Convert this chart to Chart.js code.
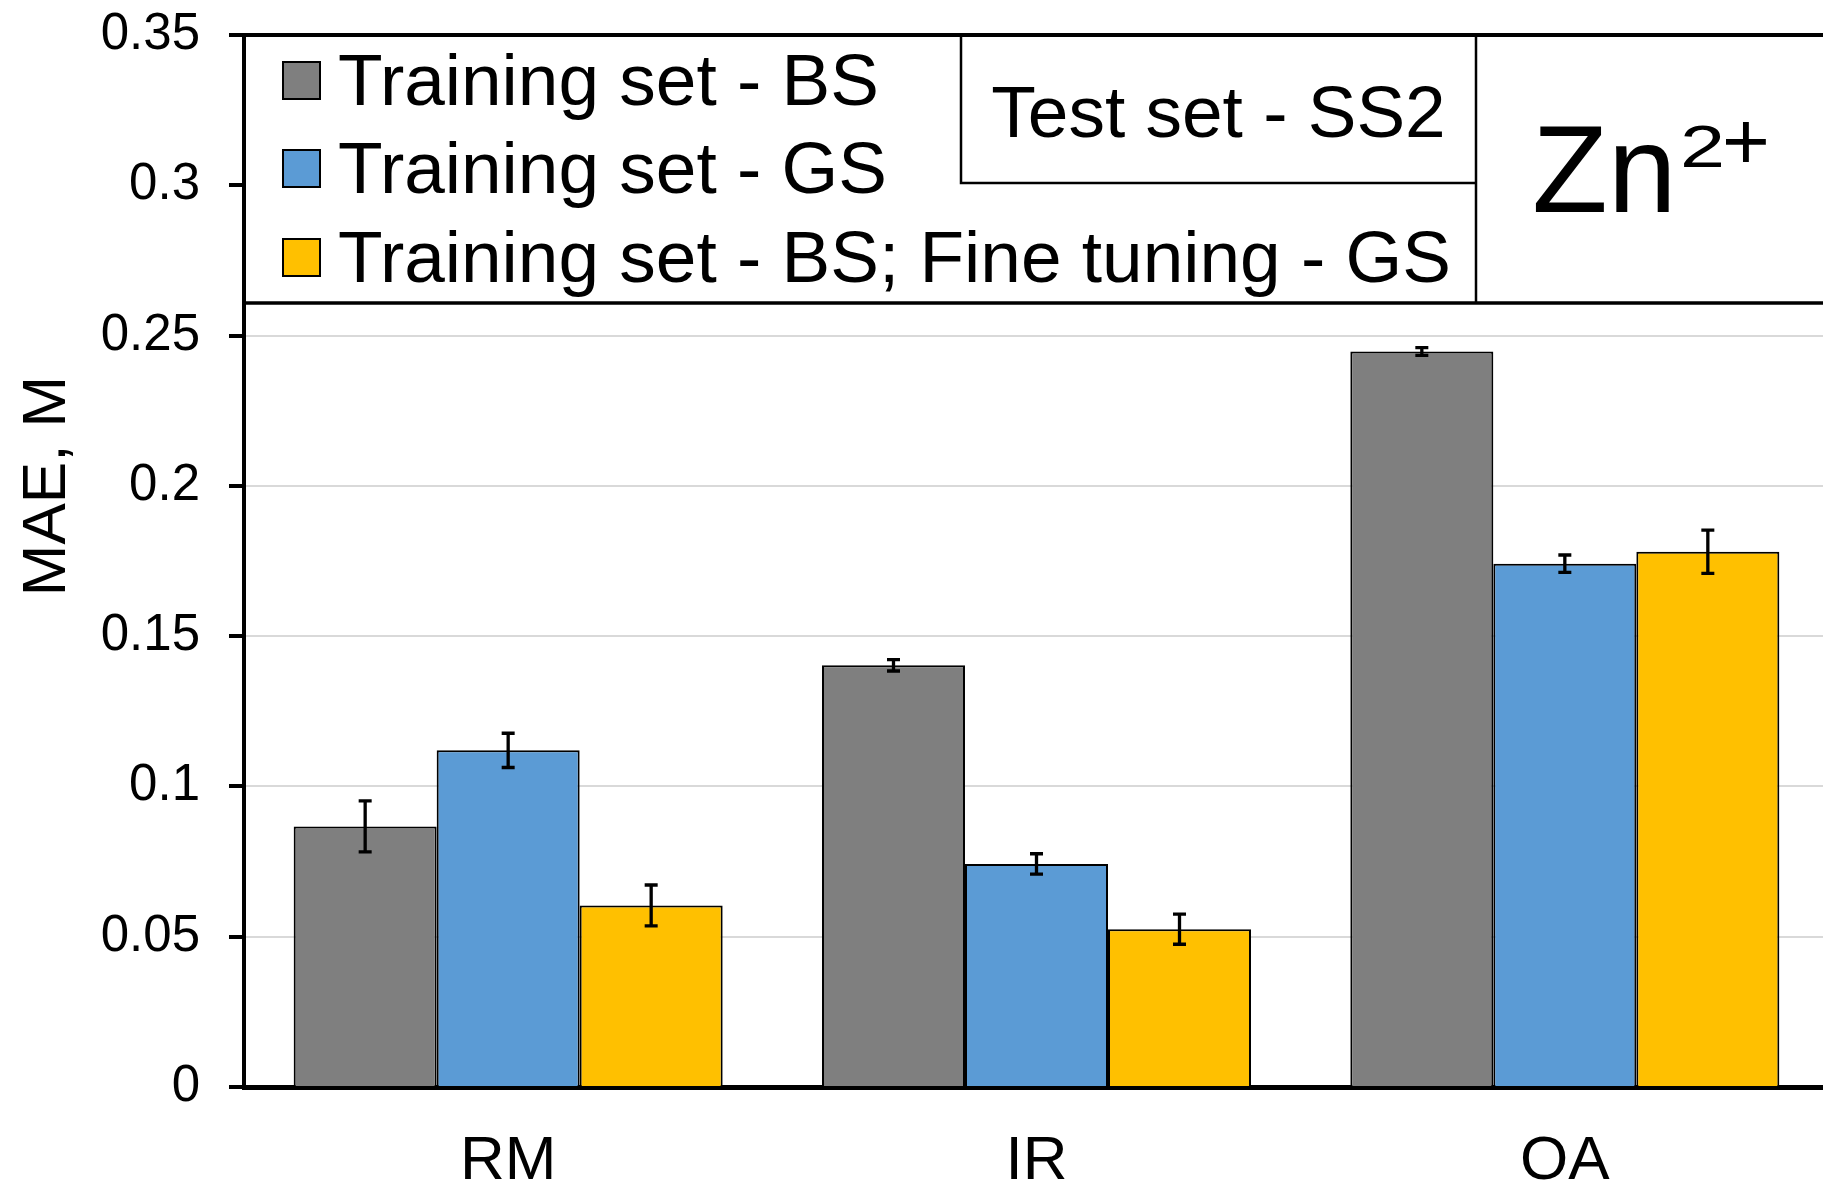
<!DOCTYPE html>
<html lang="en">
<head>
    <meta charset="UTF-8">
    <title>MAE - Zn2+</title>
    <script src="https://cdn.jsdelivr.net/npm/chart.js"></script>
    <style>
        html, body {
            margin: 0;
            padding: 0;
            background: #fff;
            overflow: hidden;
        }
        #wrap {
            width: 1829px;
            height: 1186px;
        }
    </style>
</head>
<body>
    <div id="wrap">
        <canvas id="myChart" width="1829" height="1186"></canvas>
    </div>
    <script>
        // data
        const categories = ['RM', 'IR', 'OA'];
        const seriesLabels = [
            'Training set - BS',
            'Training set - GS',
            'Training set - BS; Fine tuning - GS'
        ];
        const bsValues = [0.0867, 0.1403, 0.2447];
        const bsErrors = [0.0085, 0.0019, 0.0013];
        const gsValues = [0.1120, 0.0742, 0.1741];
        const gsErrors = [0.0057, 0.0034, 0.0029];
        const ftValues = [0.0604, 0.0525, 0.1781];
        const ftErrors = [0.0068, 0.0050, 0.0072];
        const yTickLabels = ['0', '0.05', '0.1', '0.15', '0.2', '0.25', '0.3', '0.35'];
        const seriesColors = ['#7f7f7f', '#5b9bd5', '#ffc000'];
        const testSetText = 'Test set - SS2';
        const ionText = 'Zn';
        const ionCharge = ['2', '+'];
        const yTitle = 'MAE, M';

        const FONT = '"Liberation Sans", Arial, sans-serif';
        const allErrors = [bsErrors, gsErrors, ftErrors];

        // error bars on top of each bar
        const errorBars = {
            id: 'errorBars',
            afterDatasetsDraw(chart) {
                const ctx = chart.ctx;
                const y = chart.scales.y;
                ctx.save();
                ctx.strokeStyle = '#000';
                ctx.lineWidth = 3.3;
                chart.data.datasets.forEach((ds, i) => {
                    const meta = chart.getDatasetMeta(i);
                    meta.data.forEach((bar, j) => {
                        const v = ds.data[j];
                        const e = allErrors[i][j];
                        const yTop = y.getPixelForValue(v + e);
                        const yBot = y.getPixelForValue(v - e);
                        const x = bar.x;
                        ctx.beginPath();
                        ctx.moveTo(x, yTop);
                        ctx.lineTo(x, yBot);
                        ctx.moveTo(x - 6.5, yTop);
                        ctx.lineTo(x + 6.5, yTop);
                        ctx.moveTo(x - 6.5, yBot);
                        ctx.lineTo(x + 6.5, yBot);
                        ctx.stroke();
                    });
                });
                ctx.restore();
            }
        };

        // boxed legend, test-set label and ion label in the top of the plot
        const legendBox = {
            id: 'legendBox',
            beforeDatasetsDraw(chart) {
                const ctx = chart.ctx;
                const area = chart.chartArea;
                const left = area.left;
                const right = chart.width;
                const top = area.top;
                const bottom = top + 268;
                const split1 = 961;
                const split2 = 1476;
                const midY = top + 148;

                ctx.save();
                ctx.fillStyle = '#fff';
                ctx.fillRect(left + 2, top, right - left, bottom - top);

                ctx.strokeStyle = '#000';
                ctx.lineWidth = 4;
                ctx.beginPath();
                ctx.moveTo(left - 2, top);
                ctx.lineTo(right, top);
                ctx.stroke();

                ctx.lineWidth = 3.5;
                ctx.beginPath();
                ctx.moveTo(left, bottom);
                ctx.lineTo(right, bottom);
                ctx.stroke();

                ctx.lineWidth = 2.5;
                ctx.beginPath();
                ctx.moveTo(split1, top);
                ctx.lineTo(split1, midY);
                ctx.lineTo(split2, midY);
                ctx.moveTo(split2, top);
                ctx.lineTo(split2, bottom);
                ctx.stroke();

                // series entries
                const baselines = [top + 70, top + 158, top + 247];
                ctx.font = '73px ' + FONT;
                ctx.textBaseline = 'alphabetic';
                ctx.textAlign = 'left';
                seriesLabels.forEach((label, i) => {
                    const b = baselines[i];
                    ctx.fillStyle = seriesColors[i];
                    ctx.fillRect(283, b - 43, 37, 37);
                    ctx.lineWidth = 2;
                    ctx.strokeStyle = '#000';
                    ctx.strokeRect(283, b - 43, 37, 37);
                    ctx.fillStyle = '#000';
                    ctx.fillText(label, 338, b);
                });

                // test set label
                ctx.textAlign = 'center';
                ctx.fillText(testSetText, (split1 + split2) / 2, top + 102);

                // ion label
                ctx.textAlign = 'left';
                ctx.font = '124px ' + FONT;
                ctx.fillText(ionText, 1532, top + 177);
                ctx.save();
                ctx.translate(1680, top + 132);
                ctx.scale(1.35, 1);
                ctx.font = '60px ' + FONT;
                ctx.fillText(ionCharge[0], 0, 0);
                ctx.restore();
                ctx.font = '82px ' + FONT;
                ctx.fillText(ionCharge[1], 1722, top + 134);

                // y axis title
                ctx.save();
                ctx.translate(65, 486);
                ctx.rotate(-Math.PI / 2);
                ctx.font = '62px ' + FONT;
                ctx.textAlign = 'center';
                ctx.fillText(yTitle, 0, 0);
                ctx.restore();

                ctx.restore();
            }
        };

        const ctx = document.getElementById('myChart').getContext('2d');
        const myChart = new Chart(ctx, {
            type: 'bar',
            data: {
                labels: categories,
                datasets: [bsValues, gsValues, ftValues].map((vals, i) => ({
                    label: seriesLabels[i],
                    data: vals,
                    backgroundColor: seriesColors[i],
                    borderColor: '#000',
                    borderWidth: 2,
                    categoryPercentage: 0.812,
                    barPercentage: 1.0
                }))
            },
            options: {
                responsive: false,
                animation: false,
                devicePixelRatio: 1,
                layout: {
                    padding: { top: 35, right: 0, bottom: 0, left: 0 }
                },
                plugins: {
                    legend: { display: false },
                    tooltip: { enabled: false }
                },
                scales: {
                    x: {
                        grid: { display: false, drawTicks: false },
                        border: { display: true, color: '#000', width: 5 },
                        ticks: {
                            color: '#000',
                            padding: 38,
                            font: { family: FONT, size: 62 }
                        },
                        afterFit(scale) {
                            scale.height = 99;
                            scale.paddingLeft = 0;
                            scale.paddingRight = 0;
                        }
                    },
                    y: {
                        min: 0,
                        max: 0.35,
                        ticks: {
                            stepSize: 0.05,
                            color: '#000',
                            padding: 29,
                            font: { family: FONT, size: 51 },
                            callback: (value, index) => yTickLabels[index]
                        },
                        grid: {
                            color: (c) => c.index === 0 ? 'rgba(0,0,0,0)' : '#d9d9d9',
                            lineWidth: 2,
                            tickColor: '#000',
                            tickWidth: 4,
                            tickLength: 15
                        },
                        border: { display: true, color: '#000', width: 4 },
                        afterFit(scale) {
                            scale.width = 244;
                            scale.paddingTop = 0;
                            scale.paddingBottom = 0;
                        }
                    }
                }
            },
            plugins: [legendBox, errorBars]
        });
    </script>
</body>
</html>
